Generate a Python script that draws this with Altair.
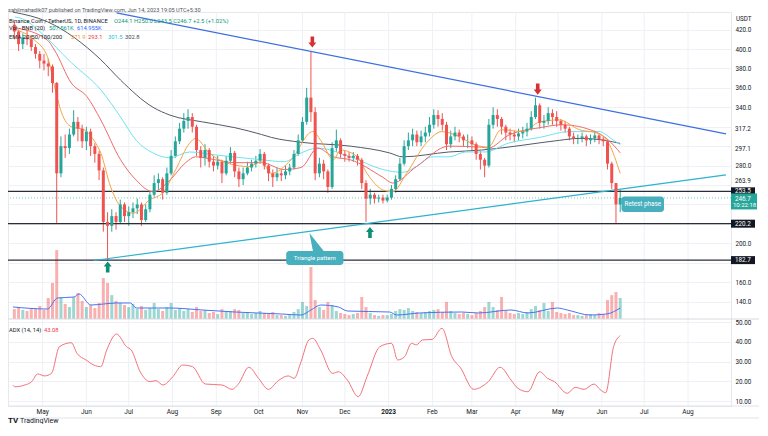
import altair as alt
import pandas as pd

FONT = "Roboto"
UP, DOWN = "#26a69a", "#ef5350"

# ---------------- data ----------------
CANDLE_START = "2022-04-11"      # 3-day candles
OPEN_FIRST = 425
CLOSE = [418, 405, 412, 410, 402, 395, 388, 385, 382, 365,
         272, 300, 298, 312, 325, 318, 305, 315, 300, 292,
         275, 222, 218, 228, 222, 240, 228, 232, 236, 240,
         224, 235, 250, 262, 266, 252, 272, 290, 305, 318,
         326, 330, 320, 296, 288, 296, 284, 280, 284, 272,
         285, 293, 274, 266, 272, 278, 282, 285, 292, 280,
         272, 268, 272, 270, 274, 278, 292, 306, 325, 350,
         335, 272, 282, 274, 258, 298, 306, 292, 290, 288,
         290, 286, 262, 246, 250, 246, 247, 244, 247, 256,
         266, 282, 300, 306, 312, 304, 310, 314, 322, 332,
         328, 322, 302, 310, 314, 310, 306, 306, 302, 292,
         286, 280, 322, 332, 328, 320, 314, 312, 310, 313,
         315, 318, 330, 342, 324, 326, 334, 330, 326, 322,
         318, 310, 308, 308, 310, 306, 308, 311, 307, 305,
         282, 262, 240, 246.7]
HIGH = [428, 420, 416, 420, 414, 405, 398, 395, 390, 384,
        366, 310, 312, 318, 337, 330, 322, 320, 318, 303,
        295, 278, 232, 235, 232, 245, 242, 238, 242, 246,
        242, 240, 254, 270, 272, 268, 278, 296, 310, 324,
        334, 338, 334, 322, 300, 302, 298, 290, 290, 286,
        290, 299, 295, 278, 278, 284, 286, 290, 297, 294,
        282, 276, 278, 276, 280, 282, 296, 312, 330, 360,
        398, 340, 288, 286, 276, 304, 317, 308, 296, 294,
        294, 292, 288, 265, 256, 252, 250, 250, 250, 260,
        270, 288, 306, 314, 318, 316, 316, 320, 330, 338,
        337, 334, 325, 316, 320, 317, 312, 312, 310, 304,
        295, 288, 328, 340, 338, 330, 322, 318, 316, 318,
        320, 324, 336, 350, 344, 332, 340, 338, 336, 328,
        326, 320, 314, 312, 314, 312, 312, 316, 313, 310,
        306, 284, 262, 255]
LOW = [410, 398, 400, 404, 398, 390, 380, 378, 372, 355,
       221, 268, 288, 292, 310, 305, 298, 296, 290, 283,
       265, 212, 183, 212, 214, 220, 222, 218, 226, 230,
       218, 222, 232, 248, 255, 245, 250, 270, 288, 302,
       314, 318, 314, 290, 278, 280, 278, 274, 276, 262,
       270, 282, 268, 258, 260, 270, 274, 278, 282, 276,
       264, 258, 264, 264, 266, 270, 276, 290, 304, 322,
       325, 265, 268, 266, 252, 256, 294, 288, 284, 284,
       284, 280, 256, 222, 240, 241, 242, 241, 242, 245,
       252, 264, 280, 296, 300, 300, 300, 304, 310, 318,
       320, 316, 296, 298, 306, 304, 300, 298, 296, 286,
       276, 268, 278, 318, 320, 312, 306, 306, 304, 306,
       308, 310, 316, 328, 318, 318, 322, 322, 320, 316,
       314, 306, 302, 302, 304, 300, 302, 304, 302, 300,
       276, 256, 221, 232]
VOLUME_K = [290, 350, 265, 235, 320, 295, 380, 265, 615, 1055,
            2020, 645, 440, 350, 645, 760, 530, 350, 410, 320,
            470, 1200, 1055, 700, 530, 470, 410, 350, 440, 290,
            380, 265, 320, 470, 290, 235, 350, 470, 265, 320,
            235, 290, 205, 350, 235, 265, 175, 205, 145, 290,
            205, 235, 290, 265, 175, 205, 145, 175, 235, 175,
            145, 205, 115, 115, 90, 145, 205, 290, 500, 380,
            1525, 555, 350, 265, 500, 410, 235, 175, 145, 115,
            145, 175, 645, 350, 175, 115, 90, 115, 115, 145,
            235, 290, 265, 320, 235, 205, 175, 205, 235, 265,
            290, 205, 500, 235, 175, 145, 175, 145, 115, 175,
            235, 350, 500, 350, 265, 645, 235, 175, 145, 175,
            145, 205, 290, 380, 265, 470, 235, 500, 205, 175,
            145, 175, 115, 115, 90, 115, 145, 115, 175, 145,
            555, 700, 790, 615]

# days counted from 2022-05-01
VOLMA_DAY = [-21, 3.5, 10.5, 22.3, 25.8, 34.2, 43.3, 52.4, 62.2, 66.3, 90.1, 113.1, 136.2, 169, 183,
             190, 197, 209.5, 215.8, 245.8, 250.7, 266.8, 296.8, 308.7, 331.7, 343.6, 364.5, 371.5,
             387.6, 399.4, 409]
VOLMA_K = [352, 293, 615, 645, 733, 410, 440, 469, 469, 322, 322, 264, 205, 147, 117,
           264, 410, 352, 234, 205, 117, 176, 205, 176, 264, 176, 322, 264, 117, 147, 322]

EMA20_DAY = [-19.6, -5.6, 3.5, 8.4, 13.3, 20.3, 29.3, 36.3, 41.2, 48.2, 55.2, 64.2, 76.1, 85.2, 94.3,
             104.1, 108.2, 118.0, 132.0, 146.0, 155.0, 162.0, 176.0, 191.3, 196.9, 206.0, 210.9,
             222.8, 229.7, 240.9, 247.9, 257.7, 271.6, 282.8, 294.7, 306.6, 315.6, 324.7, 340.1,
             352.0, 365.9, 379.9, 393.9, 400.8, 409]
EMA20 = [420, 409, 392, 362, 335, 320, 317, 306, 293, 258, 238, 231, 245, 252, 276,
         303, 308, 293, 282, 279, 284, 272, 286, 315, 306, 286, 296,
         289, 272, 255, 253, 272, 303, 315, 310, 301, 299, 317, 315,
         325, 327, 317, 313, 303, 271.9]
EMA50_DAY = [-19.6, 3.5, 8.4, 20.3, 31.4, 41.2, 55.2, 66.3, 78.2, 90.1, 101.3, 108.2, 122.2, 136.2,
             155.0, 171.1, 183.0, 194.8, 206.0, 217.9, 240.9, 247.9, 264.7, 287.7, 310.8, 315.6,
             329.6, 352.0, 368.0, 391.1, 400.8, 409]
EMA50 = [422, 409, 399, 365, 351, 327, 286, 265, 253, 265, 283, 289, 286, 283,
         283, 276, 278, 298, 289, 286, 268, 262, 279, 300, 299, 298,
         311, 319, 322, 315, 306, 293.1]
EMA100_DAY = [-19.6, -12.6, -3.5, 20.3, 41.2, 55.2, 66.3, 78.2, 90.1, 104.1, 122.2, 155.0, 171.1,
              183.0, 194.8, 217.9, 240.9, 254.9, 264.7, 275.8, 287.7, 299.6, 313.5, 329.6, 352.0,
              372.9, 393.9, 404.3, 409]
EMA100 = [433, 430, 420, 386, 358, 330, 306, 293, 288, 294, 291, 286, 284,
          293, 298, 289, 276, 273, 279, 289, 289, 294, 294, 303, 309,
          315, 315, 306, 301.5]
EMA200_DAY = [-21, 3.5, 41.2, 55.2, 78.2, 90.1, 113.1, 136.2, 155.0, 162.0, 183.0, 218.0, 245.8,
              254.9, 287.7, 310.8, 329.6, 340.1, 365.9, 379.9, 398.0, 409]
EMA200 = [438, 428, 389, 368, 340, 332, 325, 319, 312, 309, 304, 300, 293,
          289, 294, 296, 299, 301, 306, 308, 306, 302.8]

ADX_DAY = [-21, -19.6, -12.6, -7.7, -3.5, 1.4, 6.3, 11.9, 20.3, 24.4, 30.7, 36.3, 41.2, 45.4, 52.4,
           59.4, 62.8, 69.1, 76.1, 80.3, 85.2, 92.2, 99.2, 106.1, 115.2, 127.1, 134.1, 139.0, 146.0,
           152.9, 159.9, 166.9, 173.9, 178.1, 183.0, 188.5, 191.3, 196.9, 205.3, 209.5, 215.8, 223.5,
           229.7, 238.8, 247.2, 251.4, 256.3, 261.2, 264.7, 268.9, 275.8, 282.8, 289.8, 296.1, 305.2,
           310.8, 315.6, 324.0, 331.7, 336.6, 343.6, 352.0, 357.5, 362.4, 371.5, 377.1, 383.4, 390.4,
           394.6, 398.7, 404.3, 409]
ADX = [18.1, 17.2, 18.1, 19.8, 23.7, 22.7, 24.0, 37.5, 39.5, 34.1, 30.8, 28.2, 27.4, 35.8, 43.9,
       37.5, 35.8, 24.8, 19.8, 20.3, 18.1, 22.3, 28.2, 27.4, 18.6, 18.1, 15.9, 19.0, 27.1,
       21.5, 15.9, 20.3, 22.7, 21.5, 29.9, 40.9, 41.7, 35.8, 24.0, 24.8, 20.6, 12.2,
       22.3, 37.5, 39.2, 30.8, 32.4, 39.2, 38.4, 40.9, 41.2, 46.8, 32.4, 26.6, 15.9,
       17.2, 19.8, 27.1, 20.6, 16.4, 14.7, 24.8, 21.5, 19.8, 13.9, 16.9, 15.9, 18.6,
       15.9, 14.2, 37.5, 43.08]

TREND_BLUE_DAY, TREND_BLUE_P = [52.4, 483.9], [437.1, 312.7]
TREND_CYAN_DAY, TREND_CYAN_P = [36.3, 483.9], [182.3, 270.5]
LEVELS = [253.5, 220.2, 182.7]
LAST_PRICE = 246.7
EXTRA_AXIS_LABELS = [317.2, 297.1, 263.9]
RED_ARROW_DAY, RED_ARROW_P = [191.0, 350.6], [407.2, 358.8]
GREEN_ARROW_DAY, GREEN_ARROW_P = [46.1, 231.8], [175.6, 211.1]
TRI_BOX = dict(d1=172.5, d2=213.0, p1=192.1, p2=177.7, text="Triangle pattern")
TRI_POINTER = dict(d=192.7, p=201.4)
RETEST_BOX = dict(d1=409.9, d2=440.0, p1=248.2, p2=232.2, text="Retest phase")

MONTH_DAYS = [0, 31, 61, 92, 123, 153, 184, 214, 245, 276, 304, 335, 365, 396, 426, 457]
MONTH_LABELS = ["May", "Jun", "Jul", "Aug", "Sep", "Oct", "Nov", "Dec", "2023",
                "Feb", "Mar", "Apr", "May", "Jun", "Jul", "Aug"]
PRICE_TICKS = list(range(140, 440, 20))
HIDDEN_TICKS = [180, 220, 240, 260, 300, 320]
ADX_TICKS = [10, 20, 30, 40, 50]

# ---------------- frames ----------------
REF = pd.Timestamp("2022-05-01")
dates = pd.date_range(CANDLE_START, periods=len(CLOSE), freq="3D")
opens = [OPEN_FIRST] + CLOSE[:-1]
cdf = pd.DataFrame({"day": (dates - REF).days, "open": opens, "close": CLOSE,
                    "high": HIGH, "low": LOW, "vol": VOLUME_K})
cdf["dir"] = ["up" if c >= o else "down" for o, c in zip(opens, CLOSE)]
cdf["zero"] = 0
mdf = pd.DataFrame({"day": MONTH_DAYS, "label": MONTH_LABELS})
mdf["year"] = [lab.isdigit() for lab in MONTH_LABELS]

W, H = 723, 394
XS = alt.Scale(domain=[-20.95, 483.9], nice=False, zero=False)
PS = alt.Scale(domain=[32.53, 438.09], nice=False, zero=False)
AS = alt.Scale(domain=[7.47, 206.96], nice=False, zero=False)
VS = alt.Scale(domain=[-2549, 8995], nice=False, zero=False)
DIR = alt.Color("dir:N", scale=alt.Scale(domain=["up", "down"], range=[UP, DOWN]), legend=None)
ONE = pd.DataFrame({"k": [0]})
GRID = "#eef0f5"

hidden_expr = "[" + ",".join(str(v) for v in HIDDEN_TICKS) + "]"
p_axis = alt.Axis(orient="right", values=PRICE_TICKS, grid=True, gridColor=GRID,
                  labelExpr="indexof(" + hidden_expr + ", datum.value) >= 0 ? '' : format(datum.value, '.1f')",
                  ticks=False, domain=False, labelFontSize=6.3, labelColor="#131722", labelFont=FONT,
                  labelPadding=4, title=None, labelOverlap=False)
a_axis = alt.Axis(orient="right", values=ADX_TICKS, grid=True, gridColor=GRID, format=".2f",
                  ticks=False, domain=False, labelFontSize=6.3, labelColor="#131722", labelFont=FONT,
                  labelPadding=4, title=None, labelOverlap=False)


def X(field):
    return alt.X(field, type="quantitative", scale=XS, axis=None)


def PY(field):
    return alt.Y(field, type="quantitative", scale=PS, axis=None)


def txt(text, x, y, color="#131722", size=5.8, align="left", weight="normal", baseline="middle"):
    return alt.Chart(ONE).mark_text(text=text, align=align, baseline=baseline, fontSize=size,
                                    color=color, font=FONT, fontWeight=weight).encode(
        x=alt.value(x), y=alt.value(y))


def line_df(days, vals):
    return pd.DataFrame({"day": days, "v": vals})


# ---------------- time axis (grid + labels) ----------------
vgrid = alt.Chart(mdf).mark_rule(color=GRID, strokeWidth=1).encode(x=X("day"))
mlabels = alt.Chart(mdf).mark_text(fontSize=6.5, color="#131722", font=FONT, baseline="middle").encode(
    x=X("day"), y=alt.value(400), text="label:N").transform_filter("!datum.year")
ylabels = alt.Chart(mdf).mark_text(fontSize=6.5, color="#131722", font=FONT, baseline="middle",
                                   fontWeight="bold").encode(
    x=X("day"), y=alt.value(400), text="label:N").transform_filter("datum.year")

# ---------------- price pane ----------------
base = alt.Chart(cdf)
wicks = base.mark_rule(strokeWidth=1).encode(
    x=X("day"),
    y=alt.Y("low:Q", scale=PS, axis=p_axis), y2="high:Q", color=DIR)
bodies = base.mark_bar(size=3).encode(x=X("day"), y=PY("open"), y2="close:Q", color=DIR)

levels = alt.Chart(pd.DataFrame({"p": LEVELS})).mark_rule(color="#2a2e39", strokeWidth=1.2).encode(y=PY("p"))
last_line = alt.Chart(pd.DataFrame({"p": [LAST_PRICE]})).mark_rule(
    color=UP, strokeDash=[1, 2], opacity=0.6).encode(y=PY("p"))

blue = alt.Chart(line_df(TREND_BLUE_DAY, TREND_BLUE_P)).mark_line(color="#3d6fe0", strokeWidth=1.2).encode(
    x=X("day"), y=PY("v"))
cyan = alt.Chart(line_df(TREND_CYAN_DAY, TREND_CYAN_P)).mark_line(color="#2bb3cf", strokeWidth=1.2).encode(
    x=X("day"), y=PY("v"))


def ema(days, vals, color):
    return alt.Chart(line_df(days, vals)).mark_line(color=color, strokeWidth=1, interpolate="monotone").encode(
        x=X("day"), y=PY("v"))


emas = [ema(EMA200_DAY, EMA200, "#555a66"), ema(EMA100_DAY, EMA100, "#6fe3f0"),
        ema(EMA50_DAY, EMA50, "#f06a6a"), ema(EMA20_DAY, EMA20, "#f7a440")]

ARROW_DN = "M-0.45,-1.4L0.45,-1.4L0.45,0.1L1,0.1L0,1.4L-1,0.1L-0.45,0.1Z"
ARROW_UP = "M-0.45,1.4L0.45,1.4L0.45,-0.1L1,-0.1L0,-1.4L-1,-0.1L-0.45,-0.1Z"
red_arrows = alt.Chart(line_df(RED_ARROW_DAY, RED_ARROW_P)).mark_point(
    shape=ARROW_DN, filled=True, size=64, color="#d82f34", opacity=1, strokeWidth=0).encode(x=X("day"), y=PY("v"))
green_arrows = alt.Chart(line_df(GREEN_ARROW_DAY, GREEN_ARROW_P)).mark_point(
    shape=ARROW_UP, filled=True, size=64, color="#0c8f74", opacity=1, strokeWidth=0).encode(x=X("day"), y=PY("v"))

BOX_C = "#48afbe"
tri_df = pd.DataFrame([TRI_BOX])
ret_df = pd.DataFrame([RETEST_BOX])
tri_df["dm"] = (tri_df.d1 + tri_df.d2) / 2
tri_df["pm"] = (tri_df.p1 + tri_df.p2) / 2
ret_df["dm"] = (ret_df.d1 + ret_df.d2) / 2
ret_df["pm"] = (ret_df.p1 + ret_df.p2) / 2
tri_box = alt.Chart(tri_df).mark_rect(color=BOX_C, cornerRadius=3).encode(
    x=X("d1"), x2="d2:Q", y=PY("p1"), y2="p2:Q")
tri_ptr = alt.Chart(pd.DataFrame([TRI_POINTER])).mark_point(
    shape="M-0.6,-1L1,1L-0.2,1Z", filled=True, size=324, color=BOX_C, opacity=1, strokeWidth=0).encode(
    x=X("d"), y=PY("p"))
tri_txt = alt.Chart(tri_df).mark_text(color="white", fontSize=6.0, font=FONT).encode(
    x=X("dm"), y=PY("pm"), text="text:N")
ret_box = alt.Chart(ret_df).mark_rect(color=BOX_C, cornerRadius=3).encode(
    x=X("d1"), x2="d2:Q", y=PY("p1"), y2="p2:Q")
ret_txt = alt.Chart(ret_df).mark_text(color="white", fontSize=6.3, font=FONT).encode(
    x=X("dm"), y=PY("pm"), text="text:N")

extra_lbl = alt.Chart(pd.DataFrame({"p": EXTRA_AXIS_LABELS})).mark_text(
    align="left", fontSize=6.3, color="#131722", font=FONT).encode(
    x=alt.value(W + 4), y=PY("p"), text=alt.Text("p:Q", format=".1f"))
lvl_box = alt.Chart(pd.DataFrame({"p": LEVELS})).mark_rect(color="#131722", yOffset=-4, y2Offset=4).encode(
    x=alt.value(W), x2=alt.value(W + 24), y=PY("p"), y2="p:Q")
lvl_txt = alt.Chart(pd.DataFrame({"p": LEVELS})).mark_text(
    align="left", fontSize=6.3, color="white", font=FONT).encode(
    x=alt.value(W + 4), y=PY("p"), text=alt.Text("p:Q", format=".1f"))
last_df = pd.DataFrame({"p": [LAST_PRICE], "t": ["10:22:18"]})
last_box = alt.Chart(last_df).mark_rect(color=UP, yOffset=-4.5, y2Offset=11.5).encode(
    x=alt.value(W), x2=alt.value(W + 26), y=PY("p"), y2="p:Q")
last_txt = alt.Chart(last_df).mark_text(align="left", fontSize=6.3, color="white", font=FONT, dy=1).encode(
    x=alt.value(W + 4), y=PY("p"), text=alt.Text("p:Q", format=".1f"))
last_t2 = alt.Chart(last_df).mark_text(align="left", fontSize=6.0, color="white", font=FONT, dy=7.5).encode(
    x=alt.value(W + 2), y=PY("p"), text="t:N")

# ---------------- volume ----------------
vol_bars = base.mark_bar(size=3, opacity=0.45).encode(
    x=X("day"), y=alt.Y("vol:Q", scale=VS, axis=None), y2="zero:Q", color=DIR)
vol_ma = alt.Chart(line_df(VOLMA_DAY, VOLMA_K)).mark_line(
    color="#4a72f5", strokeWidth=1, interpolate="monotone").encode(
    x=X("day"), y=alt.Y("v:Q", scale=VS, axis=None))

# ---------------- ADX ----------------
adx_line = alt.Chart(line_df(ADX_DAY, ADX)).mark_line(
    color="#f4727a", strokeWidth=1, interpolate="monotone").encode(
    x=X("day"), y=alt.Y("v:Q", scale=AS, axis=a_axis))

# ---------------- frame & texts ----------------
sep = alt.Chart(ONE).mark_rule(color="#d6d9e0", strokeWidth=1).encode(
    x=alt.value(0), x2=alt.value(751), y=alt.value(307))
axis_line = alt.Chart(ONE).mark_rule(color="#e0e3eb", strokeWidth=1).encode(
    x=alt.value(0), x2=alt.value(751), y=alt.value(394))
bottom = alt.Chart(ONE).mark_rule(color="#e0e3eb", strokeWidth=1).encode(
    x=alt.value(0), x2=alt.value(751), y=alt.value(406))

texts = [
    txt("sahilmahadik07 published on TradingView.com, Jun 14, 2023 19:05 UTC+5:30", 0, 1.2,
        color="#50535e", size=5.6, baseline="bottom"),
    txt("Binance Coin / TetherUS, 1D, BINANCE", 1, 8.7),
    txt("O244.1  H250.0  L243.5  C246.7  +2.5 (+1.02%)", 106, 8.7, color="#089981"),
    txt("Vol · BNB (20)", 1, 16),
    txt("507.561K", 41, 16, color="#089981"),
    txt("614.955K", 69, 16, color="#2962ff"),
    txt("EMA 20/50/100/200", 1, 25.3),
    txt("271.9", 63, 25.3, color="#f7931a"),
    txt("293.1", 80, 25.3, color="#f23645"),
    txt("301.5", 100, 25.3, color="#22c3d8"),
    txt("302.8", 117, 25.3, color="#434651"),
    txt("ADX (14, 14)", 1, 318),
    txt("43.08", 36, 318, color="#f23645"),
    txt("USDT", W + 5, 7, size=6.3),
    txt("TV", 0, 409, size=8, weight="bold"),
    txt("TradingView", 12, 409, size=7, color="#131722"),
]

layers = [vgrid, vol_bars, vol_ma, wicks, levels, last_line, blue, cyan, *emas, bodies,
          red_arrows, green_arrows, tri_ptr, tri_box, tri_txt, ret_box, ret_txt,
          extra_lbl, lvl_box, lvl_txt, last_box, last_txt, last_t2,
          adx_line, sep, axis_line, bottom, mlabels, ylabels, *texts]

chart = alt.layer(*layers).resolve_scale(y="independent").properties(
    width=W, height=H,
    autosize=alt.AutoSizeParams(type="none"),
    padding={"left": 0, "top": 4, "right": 29, "bottom": 18},
    background="white",
).configure_view(stroke="#e6e8ee")

chart.save("out.html", embed_options={"renderer": "svg", "actions": False})
